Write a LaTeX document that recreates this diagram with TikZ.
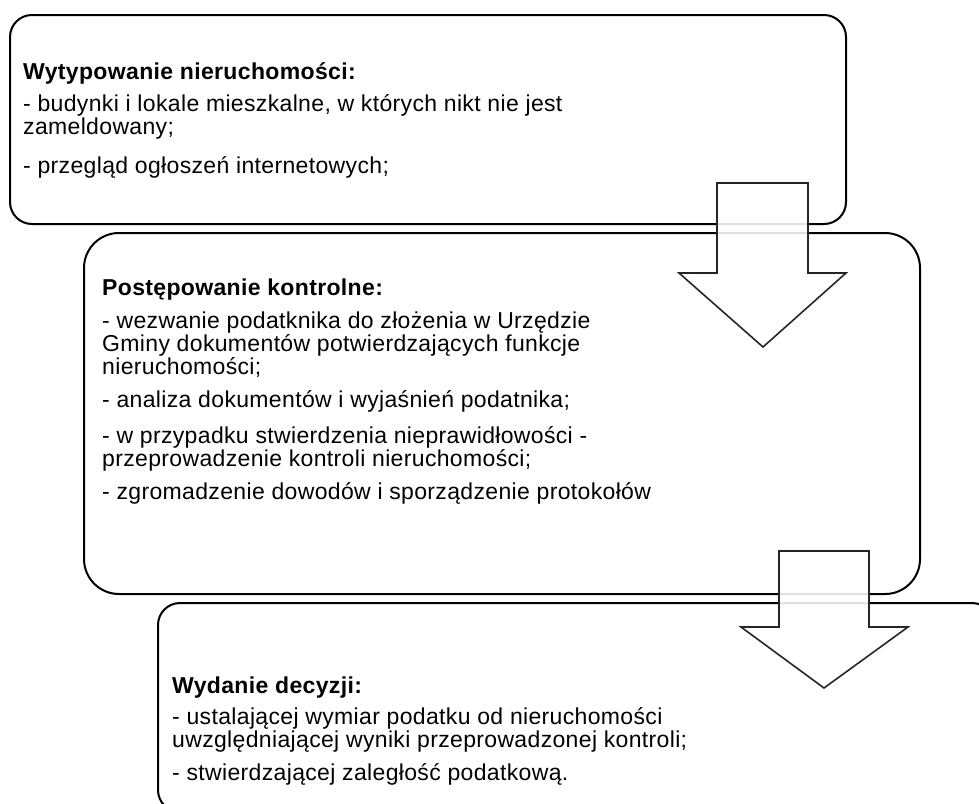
\documentclass[tikz,border=0pt]{standalone}
\usepackage{fontspec}
\setmainfont{Liberation Sans}[LetterSpace=1.5]
\newcommand\ciasnyTekst{\fontsize{23}{23}\selectfont\lineskiplimit-20pt\lineskip0pt\relax}
\begin{document}
\begin{tikzpicture}[x=1pt,y=-1pt,line join=miter,
	box/.style={draw,line width=2pt,fill=white,anchor=north west,inner sep=0pt,minimum width=836pt},
	blockarrow/.style={draw=black!85,line width=1.6pt,fill=white,fill opacity=0.88},
	txt/.style={anchor=north west,inner sep=0pt,align=left,font=\ciasnyTekst}]
	\useasboundingbox (0,0) rectangle (979,803);
	% etapy
	\node[box,minimum height=209pt,rounded corners=22pt] (typowanie) at (9,14) {};
	\node[txt] (typowanieTxt) at (23,62) {\textbf{Wytypowanie nieruchomości:}\\[9pt]
		- budynki i lokale mieszkalne, w których nikt nie jest\\
		zameldowany;\\[16pt]
		- przegląd ogłoszeń internetowych;};
	\node[box,minimum height=361pt,rounded corners=35pt] (kontrola) at (83,232) {};
	\node[txt] (kontrolaTxt) at (102,279) {\textbf{Postępowanie kontrolne:}\\[10pt]
		- wezwanie podatknika do złożenia w Urzędzie\\
		Gminy dokumentów potwierdzających funkcje\\
		nieruchomości;\\[10pt]
		- analiza dokumentów i wyjaśnień podatnika;\\[13pt]
		- w przypadku stwierdzenia nieprawidłowości -\\
		przeprowadzenie kontroli nieruchomości;\\[10pt]
		- zgromadzenie dowodów i sporządzenie protokołów};
	% strzalka 1
	\draw[blockarrow] (717,183) -- (808,183) -- (808,273) -- (846,273) -- (763,347)
		-- (679,273) -- (717,273) -- cycle;
	\node[box,minimum height=209pt,rounded corners=22pt] (decyzja) at (157,602) {};
	\node[txt] (decyzjaTxt) at (172,677) {\textbf{Wydanie decyzji:}\\[8pt]
		- ustalającej wymiar podatku od nieruchomości\\
		uwzględniającej wyniki przeprowadzonej kontroli;\\[10pt]
		- stwierdzającej zaległość podatkową.};
	% strzalka 2
	\draw[blockarrow] (779,551) -- (869,551) -- (869,627) -- (908,627) -- (824,688)
		-- (741,627) -- (779,627) -- cycle;
\end{tikzpicture}
\end{document}
